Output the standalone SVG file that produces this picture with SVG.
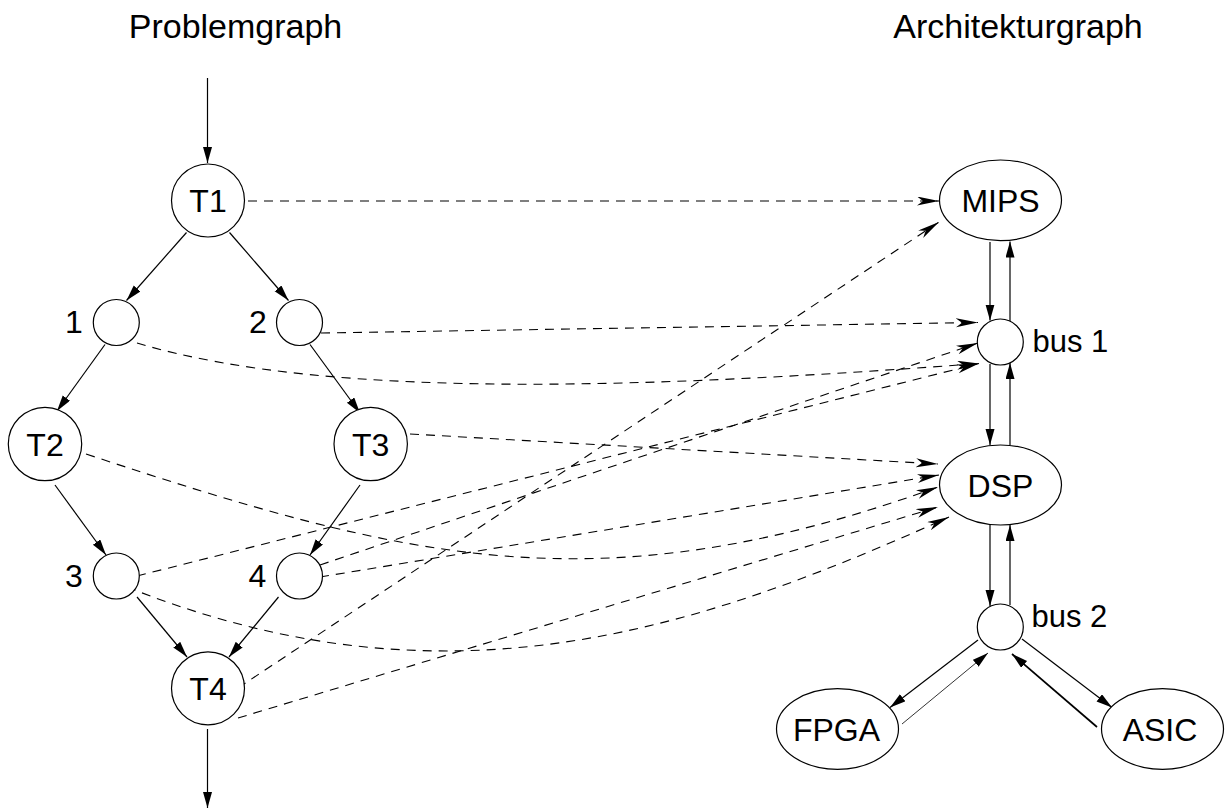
<svg xmlns="http://www.w3.org/2000/svg" width="1226" height="809" viewBox="0 0 1226 809">
<style>
  .node { fill: #fff; stroke: #000; stroke-width: 1.2; }
  .lbl { font-family: "Liberation Sans", Arial, sans-serif; font-size: 32px; fill: #000; text-anchor: middle; }
  .side { font-family: "Liberation Sans", Arial, sans-serif; font-size: 31px; fill: #000; }
  .title { font-family: "Liberation Sans", Arial, sans-serif; font-size: 34px; fill: #000; text-anchor: middle; }
  .edge { fill: none; stroke: #000; stroke-width: 1.2; marker-end: url(#tri); }
  .map { fill: none; stroke: #000; stroke-width: 1.1; stroke-dasharray: 9 7; marker-end: url(#stealth); }
</style>
<defs>
  <marker id="tri" markerUnits="userSpaceOnUse" markerWidth="17" markerHeight="10" refX="16" refY="4.5" orient="auto">
    <path d="M0,0 L16,4.5 L0,9 z" fill="#000"/>
  </marker>
  <marker id="stealth" markerUnits="userSpaceOnUse" markerWidth="23" markerHeight="10" refX="22" refY="4.5" orient="auto">
    <path d="M0,0 L22,4.5 L0,9 L6,4.5 z" fill="#000"/>
  </marker>
</defs>
<rect width="1226" height="809" fill="#fff"/>

<text class="title" x="235.5" y="38">Problemgraph</text>
<text class="title" x="1018" y="38">Architekturgraph</text>

<g id="connectors">
  <!-- problem graph edges -->
  <line class="edge" x1="207.5" y1="78" x2="207.5" y2="163"/>
  <line class="edge" x1="186.5" y1="232.5" x2="126.5" y2="300.5"/>
  <line class="edge" x1="229.5" y1="232.5" x2="288.5" y2="300.5"/>
  <line class="edge" x1="105" y1="344.5" x2="57" y2="411"/>
  <line class="edge" x1="310" y1="344.5" x2="360" y2="413"/>
  <line class="edge" x1="55" y1="485" x2="106" y2="555"/>
  <line class="edge" x1="360" y1="485" x2="310" y2="555"/>
  <line class="edge" x1="137" y1="597" x2="187" y2="657"/>
  <line class="edge" x1="278.5" y1="597" x2="229" y2="657"/>
  <line class="edge" x1="207.5" y1="729" x2="207.5" y2="808"/>

  <!-- architecture graph edges -->
  <line class="edge" x1="990" y1="242" x2="990" y2="320.5"/>
  <line class="edge" x1="1010" y1="322" x2="1010" y2="241.5"/>
  <line class="edge" x1="990" y1="364" x2="990" y2="445"/>
  <line class="edge" x1="1010" y1="445" x2="1010" y2="363"/>
  <line class="edge" x1="990" y1="525" x2="990" y2="606"/>
  <line class="edge" x1="1010" y1="605" x2="1010" y2="525"/>
  <line class="edge" x1="978" y1="640" x2="890" y2="707.5"/>
  <line class="edge" x1="902" y1="724" x2="988" y2="653" style="stroke-width:0.8"/>
  <line class="edge" x1="1097" y1="727" x2="1012" y2="654" style="stroke-width:1.7"/>
  <line class="edge" x1="1022" y1="639" x2="1112" y2="707.5"/>

  <!-- mapping edges -->
  <line class="map" x1="248" y1="201" x2="939" y2="201"/>
  <line class="map" x1="238" y1="688" x2="939" y2="222"/>
  <line class="map" x1="321" y1="333" x2="978" y2="322.5"/>
  <path class="map" d="M137,343 C337,403 678,386 979,363.5"/>
  <line class="map" x1="137" y1="576" x2="979" y2="363.5"/>
  <line class="map" x1="320" y1="565" x2="978" y2="343"/>
  <line class="map" x1="410" y1="434" x2="938" y2="464"/>
  <line class="map" x1="320" y1="577" x2="939" y2="475"/>
  <path class="map" d="M86,454 C406,559.6 598,609.4 938,487"/>
  <line class="map" x1="238" y1="718" x2="938" y2="507"/>
  <path class="map" d="M127,587 C447,715 699,629.5 949,517"/>
</g>

<g id="T1"><circle class="node" cx="208" cy="200.5" r="36.5"/><text class="lbl" x="208" y="212">T1</text></g>
<g id="n1"><circle class="node" cx="116.3" cy="322.5" r="23"/><text class="lbl" x="74" y="333">1</text></g>
<g id="n2"><circle class="node" cx="299.5" cy="322.5" r="23"/><text class="lbl" x="258" y="333">2</text></g>
<g id="T2"><circle class="node" cx="45" cy="444" r="36.7"/><text class="lbl" x="45" y="455.5">T2</text></g>
<g id="T3"><circle class="node" cx="370.7" cy="444" r="36.7"/><text class="lbl" x="370.7" y="455.5">T3</text></g>
<g id="n3"><circle class="node" cx="116.3" cy="576" r="23"/><text class="lbl" x="74" y="587">3</text></g>
<g id="n4"><circle class="node" cx="299.5" cy="576" r="23"/><text class="lbl" x="257.5" y="587">4</text></g>
<g id="T4"><circle class="node" cx="208" cy="688.3" r="36.5"/><text class="lbl" x="208" y="699.8">T4</text></g>

<g id="MIPS"><ellipse class="node" cx="1000.5" cy="200.3" rx="61" ry="40.3"/><text class="lbl" x="1000.5" y="211.8">MIPS</text></g>
<g id="bus1"><circle class="node" cx="1000.3" cy="342" r="23"/><text class="side" x="1032.5" y="352">bus 1</text></g>
<g id="DSP"><ellipse class="node" cx="1000.5" cy="485" rx="61" ry="40"/><text class="lbl" x="1000.5" y="496.5">DSP</text></g>
<g id="bus2"><circle class="node" cx="1000.3" cy="627" r="23"/><text class="side" x="1031.5" y="626.5">bus 2</text></g>
<g id="FPGA"><ellipse class="node" cx="837.5" cy="729" rx="61" ry="40.3"/><text class="lbl" x="836.5" y="740.5">FPGA</text></g>
<g id="ASIC"><ellipse class="node" cx="1162.5" cy="729" rx="61" ry="40.3"/><text class="lbl" x="1160" y="740.5">ASIC</text></g>
</svg>
